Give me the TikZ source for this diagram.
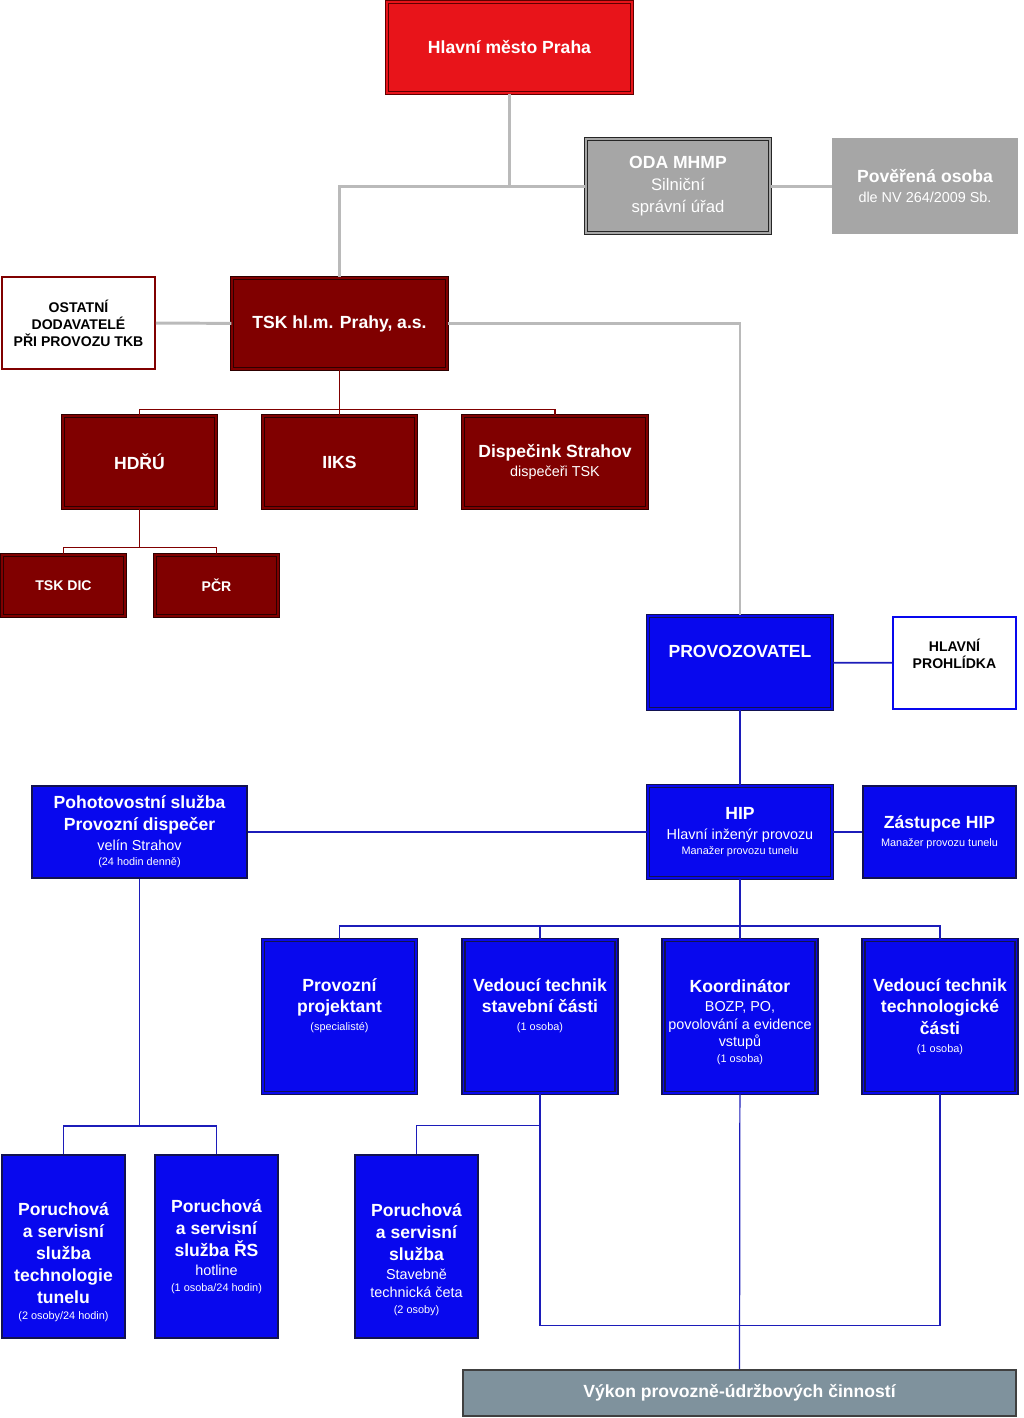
\documentclass[tikz,border=0pt]{standalone}
\usepackage{fontspec}
\setmainfont{Liberation Sans}

\definecolor{prahared}{RGB}{232,20,26}
\definecolor{prahadark}{RGB}{95,0,0}
\definecolor{tskred}{RGB}{128,0,0}
\definecolor{tskdark}{RGB}{45,0,0}
\definecolor{odagray}{RGB}{166,166,166}
\definecolor{linegray}{RGB}{186,186,186}
\definecolor{pblue}{RGB}{8,8,238}
\definecolor{bluedark}{RGB}{18,18,80}
\definecolor{linkblue}{RGB}{28,28,185}
\definecolor{vykongray}{RGB}{127,146,157}

\newcommand{\fhead}{\fontsize{10}{12.4}\selectfont\bfseries}
\newcommand{\fbig}{\fontsize{9.5}{12.4}\selectfont\mdseries}
\newcommand{\fsub}{\fontsize{8.2}{10.2}\selectfont\mdseries}
\newcommand{\fsmall}{\fontsize{6.2}{8.4}\selectfont\mdseries}
\newcommand{\flabel}{\fontsize{8}{9.6}\selectfont\bfseries}
% invisible struts that push a text block down (top) or up (bottom) in its box
\newcommand{\topgap}[1]{\rule{0pt}{#1}}
\newcommand{\botgap}[1]{\rule[-#1]{0pt}{#1}}

\begin{document}
\begin{tikzpicture}[
  x=0.02cm, y=-0.02cm,
  box/.style={rectangle, inner xsep=1pt, inner ysep=2pt, align=center, font=\fhead, text=white},
  size/.style 2 args={minimum width=#1cm, minimum height=#2cm},
  dbl/.style={line width=0.8pt, double distance=0.9pt, double=#1},
  prahabox/.style={box, fill=prahared, draw=prahadark, dbl=prahared},
  tskbox/.style={box, fill=tskred, draw=tskdark, dbl=tskred},
  odabox/.style={box, fill=odagray, draw=black!85, dbl=odagray},
  povbox/.style={box, fill=odagray, draw=black!35, line width=0.9pt},
  outbox/.style={box, fill=white, text=black, font=\flabel, line width=0.9pt},
  bluebox/.style={box, fill=pblue, draw=bluedark, line width=0.9pt},
  bluedbl/.style={box, fill=pblue, draw=bluedark, dbl=pblue},
  vykonbox/.style={box, fill=vykongray, draw=black!75, line width=0.9pt},
  gline/.style={draw=linegray, line width=1.7pt},
  rline/.style={draw=tskred, line width=0.9pt},
  bline/.style={draw=linkblue, line width=1pt},
  bthin/.style={draw=linkblue, line width=0.7pt}
]
\useasboundingbox (0,0) rectangle (1024,1418);

% city level
\node[prahabox, size={4.9}{1.82}] (praha) at (509.5,47.5) {Hlavní město Praha};
\node[odabox, size={3.68}{1.88}] (oda) at (678,186)
  {ODA MHMP\\\fbig Silniční\\\fbig správní úřad};
\node[povbox, size={3.68}{1.88}] (pover) at (925,186)
  {Pověřená osoba\\[-1.2pt]\fsub dle NV 264/2009 Sb.};

% TSK
\node[outbox, draw=tskred, size={3.06}{1.84}] (ostatni) at (78.5,323)
  {OSTATNÍ\\DODAVATELÉ\\PŘI PROVOZU TKB};
\node[tskbox, size={4.3}{1.82}] (tsk) at (339.5,323.5) {TSK hl.m. Prahy, a.s.};
\node[tskbox, size={3.06}{1.84}] (hdru) at (139.5,462) {HDŘÚ};
\node[tskbox, size={3.06}{1.84}] (iiks) at (339.5,462) {IIKS};
\node[tskbox, size={3.68}{1.84}] (disp) at (555,462)
  {Dispečink Strahov\\[-1.2pt]\fsub dispečeři TSK};
\node[tskbox, font=\flabel, size={2.46}{1.22}] (dic) at (63.5,585.5) {TSK DIC};
\node[tskbox, font=\flabel, size={2.46}{1.22}] (pcr) at (216.5,585.5) {PČR};

% operator
\node[bluedbl, size={3.68}{1.86}] (provoz) at (740,662.5) {PROVOZOVATEL\botgap{12.4pt}};
\node[outbox, draw=pblue, size={2.46}{1.84}] (prohl) at (954.5,663)
  {HLAVNÍ\\PROHLÍDKA\botgap{10.2pt}};
\node[bluebox, size={4.3}{1.84}] (pohot) at (139.5,832)
  {Pohotovostní služba\\Provozní dispečer\\[-1.2pt]\fsub velín Strahov\\[-3.6pt]\fsmall (24 hodin denně)};
\node[bluedbl, size={3.68}{1.84}] (hip) at (740,832)
  {HIP\\[-1.2pt]\fsub Hlavní inženýr provozu\\[-3.6pt]\fsmall Manažer provozu tunelu};
\node[bluebox, size={3.06}{1.84}] (zast) at (939.5,832)
  {Zástupce HIP\\[-2.2pt]\fsmall Manažer provozu tunelu};

\node[bluedbl, size={3.06}{3.06}] (proj) at (339.5,1016.5)
  {Provozní\\projektant\\[-2.2pt]\fsmall (specialisté)\botgap{13.7pt}};
\node[bluedbl, size={3.06}{3.06}] (vstav) at (540,1016.5)
  {Vedoucí technik\\stavební části\\[-2.2pt]\fsmall (1 osoba)\botgap{13.7pt}};
\node[bluedbl, size={3.06}{3.06}] (koord) at (740,1016.5)
  {\topgap{13.3pt}Koordinátor\\[-1.2pt]\fsub BOZP, PO,\\[-2.5pt]\fsub povolování a evidence\\[-2.5pt]\fsub vstupů\\[-3.6pt]\fsmall (1 osoba)};
\node[bluedbl, size={3.06}{3.06}] (vtech) at (940,1016.5)
  {Vedoucí technik\\technologické\\části\\[-2.2pt]\fsmall (1 osoba)};

\node[bluebox, size={2.46}{3.66}] (por1) at (63.5,1246.5)
  {\topgap{25.7pt}Poruchová\\a servisní\\služba\\technologie\\tunelu\\[-2.8pt]\fsmall (2 osoby/24 hodin)};
\node[bluebox, size={2.46}{3.66}] (por2) at (216.5,1246.5)
  {Poruchová\\a servisní\\služba ŘS\\[-1.2pt]\fsub hotline\\[-3.6pt]\fsmall (1 osoba/24 hodin)};
\node[bluebox, size={2.46}{3.66}] (por3) at (416.5,1246.5)
  {\topgap{22.5pt}Poruchová\\a servisní\\služba\\[-1.2pt]\fsub Stavebně\\[-2.5pt]\fsub technická četa\\[-3pt]\fsmall (2 osoby)};
\node[vykonbox, size={11.06}{0.92}] (vykon) at (739.5,1393)
  {Výkon provozně-údržbových činností};

% gray links
\draw[gline] (praha) |- (oda);
\draw[gline] (tsk.north) |- (oda.west);
\draw[gline] (oda) -- (pover);
\draw[gline] (ostatni) -- (tsk);
\draw[gline] (tsk) -| (provoz);

% TSK tree
\draw[rline] (tsk) -- (iiks);
\draw[rline] (tsk.south) -- ++(0,40) -| (hdru.north);
\draw[rline] (tsk.south) -- ++(0,40) -| (disp.north);
\draw[rline] (hdru.south) -- ++(0,39) -| (dic.north);
\draw[rline] (hdru.south) -- ++(0,39) -| (pcr.north);

% operator tree
\draw[bline] (provoz) -- (prohl);
\draw[bline] (provoz) -- (hip);
\draw[bline] (pohot) -- (hip);
\draw[bline] (hip) -- (zast);
\draw[bline] (hip) -- (koord);
\draw[bline] (hip.south) -- ++(0,47) -| (proj.north);
\draw[bline] (hip.south) -- ++(0,47) -| (vstav.north);
\draw[bline] (hip.south) -- ++(0,47) -| (vtech.north);
\draw[bline] (pohot.south) -- ++(0,247) -| (por1.north);
\draw[bline] (pohot.south) -- ++(0,247) -| (por2.north);
\draw[bthin] (vstav.south) -- ++(0,32) -| (por3.north);
\draw[bthin] (vstav.south) -- ++(0,232) -| (vtech.south);
\draw[bthin] (koord) -- (vykon);
\end{tikzpicture}
\end{document}
